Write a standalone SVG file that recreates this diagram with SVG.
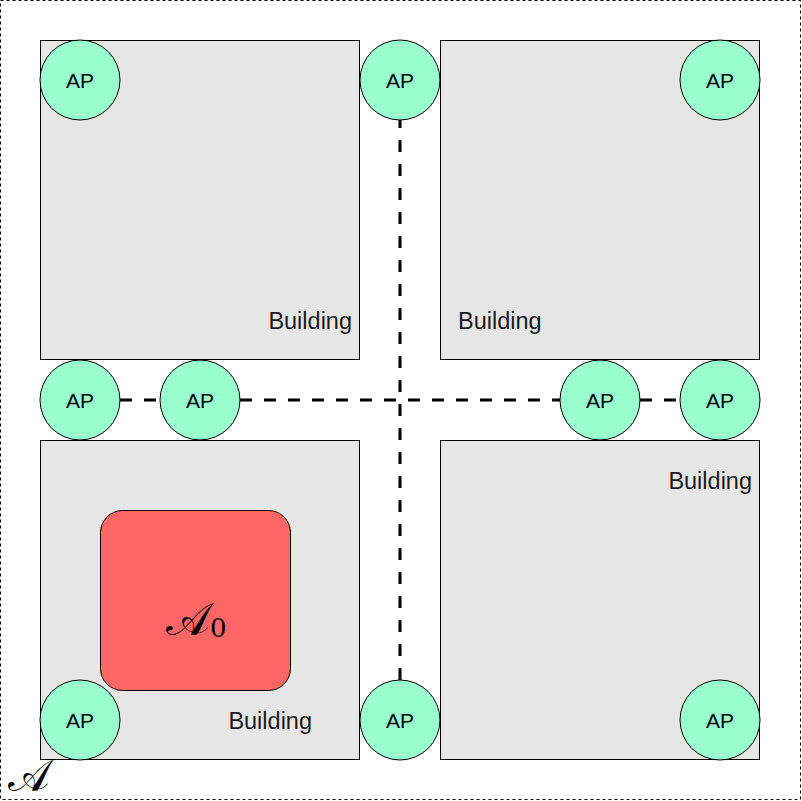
<svg xmlns="http://www.w3.org/2000/svg" width="802" height="801" viewBox="0 0 802 801">
<style>
.bld{fill:#E6E6E6;stroke:#000;stroke-width:1}
.ap{fill:#99FFCC;stroke:#000;stroke-width:1}
.apt{font-family:"Liberation Sans",Arial,sans-serif;font-size:21px;fill:#000;text-anchor:middle}
.bt{font-family:"Liberation Sans",Arial,sans-serif;font-size:23.5px;fill:#1a1a1a}
.dl{stroke:#000;stroke-width:3;stroke-dasharray:12 12;fill:none}
.math{font-family:"DejaVu Serif","Noto Sans",serif;fill:#000}
</style>
<rect x="0.5" y="0.5" width="800" height="799" fill="#fff" stroke="#000" stroke-width="1" stroke-dasharray="3 3"/>
<g id="building-tl"><rect class="bld" x="40.5" y="40.5" width="319" height="319"/><text class="bt" x="352" y="329" text-anchor="end">Building</text></g>
<g id="building-tr"><rect class="bld" x="440.5" y="40.5" width="319" height="319"/><text class="bt" x="458" y="329">Building</text></g>
<g id="building-bl"><rect class="bld" x="40.5" y="440.5" width="319" height="319"/><text class="bt" x="312" y="729" text-anchor="end">Building</text></g>
<g id="building-br"><rect class="bld" x="440.5" y="440.5" width="319" height="319"/><text class="bt" x="752" y="489" text-anchor="end">Building</text></g>
<g id="region-A0"><rect x="100.5" y="510.5" width="190" height="180" rx="22" ry="22" fill="#FF6666" stroke="#000" stroke-width="1"/><text class="math" x="166" y="635" font-size="46">𝒜<tspan font-size="26" dy="2">0</tspan></text></g>
<g id="connectors">
<path class="dl" d="M400,680 L400,120"/>
<path class="dl" d="M240,400 L560,400"/>
<path class="dl" d="M120,400 L160,400"/>
<path class="dl" d="M640,400 L680,400"/>
</g>
<g id="ap1"><circle class="ap" cx="80" cy="80" r="40"/><text class="apt" x="80" y="87.5">AP</text></g>
<g id="ap2"><circle class="ap" cx="400" cy="80" r="40"/><text class="apt" x="400" y="87.5">AP</text></g>
<g id="ap3"><circle class="ap" cx="720" cy="80" r="40"/><text class="apt" x="720" y="87.5">AP</text></g>
<g id="ap4"><circle class="ap" cx="80" cy="400" r="40"/><text class="apt" x="80" y="407.5">AP</text></g>
<g id="ap5"><circle class="ap" cx="200" cy="400" r="40"/><text class="apt" x="200" y="407.5">AP</text></g>
<g id="ap6"><circle class="ap" cx="600" cy="400" r="40"/><text class="apt" x="600" y="407.5">AP</text></g>
<g id="ap7"><circle class="ap" cx="720" cy="400" r="40"/><text class="apt" x="720" y="407.5">AP</text></g>
<g id="ap8"><circle class="ap" cx="80" cy="720" r="40"/><text class="apt" x="80" y="727.5">AP</text></g>
<g id="ap9"><circle class="ap" cx="400" cy="720" r="40"/><text class="apt" x="400" y="727.5">AP</text></g>
<g id="ap10"><circle class="ap" cx="720" cy="720" r="40"/><text class="apt" x="720" y="727.5">AP</text></g>
<g id="label-A"><text class="math" x="8" y="791" font-size="44">𝒜</text></g>
</svg>
